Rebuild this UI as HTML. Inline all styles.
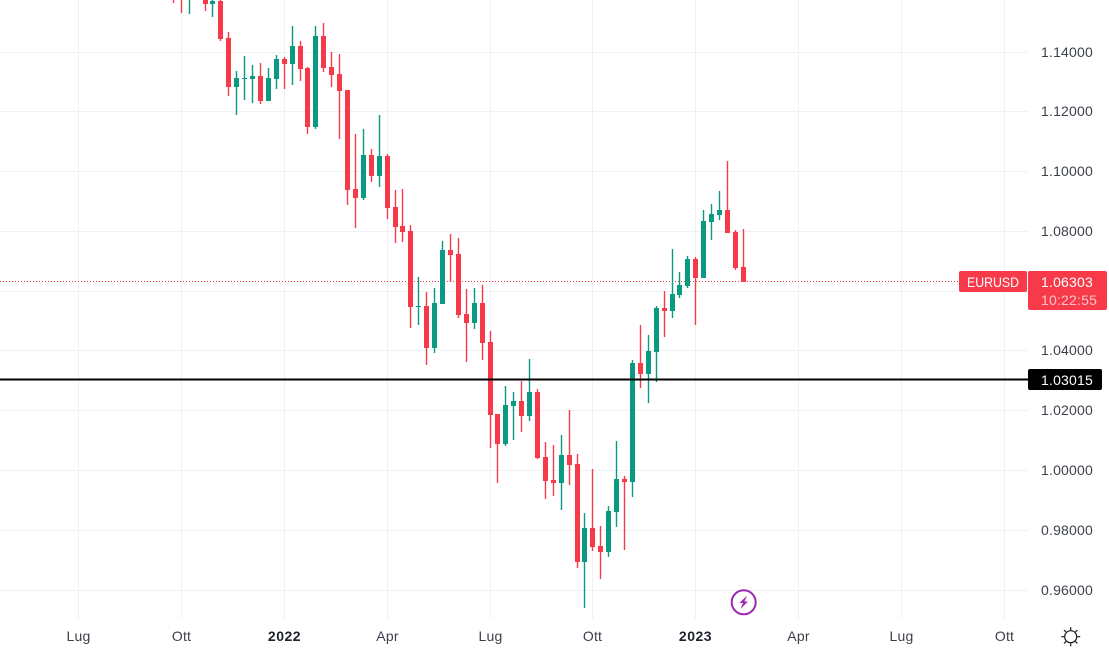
<!DOCTYPE html>
<html lang="it">
<head>
<meta charset="utf-8">
<title>EURUSD weekly chart</title>
<style>
html,body{margin:0;padding:0;background:#fff;width:1109px;height:651px;overflow:hidden}
svg{display:block}
text{font-family:"Liberation Sans",sans-serif;font-size:14px;fill:#3c404b;letter-spacing:.2px}
</style>
</head>
<body>
<svg id="chart" width="1109" height="651" viewBox="0 0 1109 651" xmlns="http://www.w3.org/2000/svg">
  <g id="grid"></g>
  <line x1="0" x2="959" y1="281.5" y2="281.5" stroke="#f63a4a" stroke-width="1" stroke-dasharray="1 2"></line>
  <g id="candles"></g>
  <rect x="0" y="378.5" width="1028" height="2" fill="#000"></rect>
  <g id="price-axis"></g>
  <g id="time-axis"></g>

  <g>
    <rect x="959" y="271" width="68" height="21" rx="2" fill="#f63a4a"></rect>
    <text x="967" y="287" textLength="52" lengthAdjust="spacingAndGlyphs" style="fill:#fff;letter-spacing:0">EURUSD</text>
  </g>
  <g>
    <rect x="1028" y="271" width="79" height="39" rx="2" fill="#f63a4a"></rect>
    <text x="1041" y="287" style="fill:#fff">1.06303</text>
    <text x="1041" y="305" style="fill:#fcc4ca">10:22:55</text>
  </g>
  <g>
    <rect x="1028" y="369" width="74" height="21" rx="2" fill="#000"></rect>
    <text x="1041" y="385" style="fill:#fff">1.03015</text>
  </g>

  <g>
    <circle cx="743.7" cy="602.3" r="12" fill="#fff" stroke="#9c27b0" stroke-width="2"></circle>
    <path d="M747 595.5 L739.5 603 L743 603 L740.5 609 L748 601.5 L744.5 601.5 Z" fill="#9c27b0"></path>
  </g>
  <g fill="none" stroke="#131722" stroke-width="1.2">
    <circle cx="1070.7" cy="636.7" r="6"></circle>
    <path d="M1070.7 627.2v3M1070.7 643.2v3M1061.2 636.7h3M1077.2 636.7h3M1064 630l2 2M1075.4 641.4l2 2M1077.4 630l-2 2M1066 641.4l-2 2"></path>
  </g>
</svg>
<script>
const opens = [1.16391,1.16123,1.15822,1.15900,1.15822,1.15588,1.15689,1.14451,1.12812,1.13080,1.13080,1.13180,1.12344,1.13080,1.13749,1.13581,1.14184,1.13448,1.11474,1.14518,1.13481,1.13247,1.12712,1.09401,1.09100,1.10538,1.09836,1.10505,1.08799,1.08163,1.07996,1.05455,1.05488,1.04083,1.05555,1.07361,1.07227,1.05220,1.04919,1.05588,1.04284,1.01876,1.00872,1.02144,1.02311,1.01809,1.02612,1.00437,0.99668,0.99568,1.00505,1.00204,0.96926,0.98063,0.97461,0.97260,0.98598,0.99702,0.99601,1.03581,1.03213,1.03949,1.05421,1.05321,1.05856,1.06157,1.07060,1.06424,1.08297,1.08531,1.08699,1.07963,1.06792];
const highs = [1.16558,1.16391,1.16224,1.16200,1.15990,1.15856,1.15755,1.14652,1.13348,1.13849,1.13548,1.13615,1.13448,1.13883,1.13816,1.14852,1.14351,1.13481,1.14852,1.14953,1.13983,1.13916,1.12712,1.11240,1.11408,1.10739,1.11876,1.10572,1.09367,1.09400,1.08197,1.06458,1.05956,1.06090,1.07662,1.07896,1.07762,1.06057,1.06090,1.06190,1.04652,1.01876,1.02812,1.02612,1.02979,1.03715,1.02712,1.00939,1.00839,1.01173,1.02010,1.00538,0.98565,1.00036,0.98130,0.98799,1.00973,0.99802,1.03682,1.04852,1.04518,1.05488,1.05989,1.07394,1.06625,1.07160,1.07127,1.08699,1.08899,1.09334,1.10337,1.08030,1.08063];
const lows = [1.15622,1.15287,1.15254,1.15760,1.15354,1.15153,1.14351,1.12511,1.11876,1.12378,1.12278,1.12244,1.12344,1.12745,1.12745,1.12879,1.13013,1.11240,1.11408,1.13314,1.12812,1.11073,1.08866,1.08097,1.09033,1.09635,1.09468,1.08398,1.07595,1.07628,1.04752,1.04852,1.03515,1.03916,1.05555,1.06291,1.05087,1.03615,1.04719,1.03682,1.00739,0.99568,1.00805,1.01006,1.01274,1.01642,1.00371,0.99033,0.99134,0.98665,0.99501,0.96725,0.95388,0.97294,0.96358,0.97093,0.98097,0.97327,0.99100,1.02746,1.02244,1.02946,1.04451,1.05087,1.05755,1.06090,1.04852,1.06424,1.07695,1.08364,1.07929,1.06692,1.06303];
const closes = [1.15889,1.15822,1.16123,1.16000,1.15588,1.15689,1.14418,1.12812,1.13113,1.13113,1.13180,1.12344,1.13113,1.13749,1.13581,1.14184,1.13414,1.11474,1.14518,1.13448,1.13214,1.12679,1.09367,1.09100,1.10538,1.09836,1.10505,1.08766,1.08130,1.07963,1.05455,1.05488,1.04083,1.05588,1.07361,1.07194,1.05187,1.04919,1.05588,1.04250,1.01843,1.00872,1.02177,1.02311,1.01809,1.02612,1.00404,0.99635,0.99568,1.00505,1.00170,0.96926,0.98063,0.97428,0.97260,0.98632,0.99702,0.99601,1.03581,1.03213,1.03983,1.05421,1.05321,1.05889,1.06190,1.07060,1.06424,1.08331,1.08565,1.08699,1.07929,1.06759,1.06303];
const priceTicks = [1.14,1.12,1.10,1.08,1.06,1.04,1.02,1.00,0.98,0.96];
const hiddenPriceLabels = [1.06];
const timeLabels = ["Lug","Ott","2022","Apr","Lug","Ott","2023","Apr","Lug","Ott"];
const timeBold = ["2022","2023"];
const timeBarIndex = [-12,1,14,27,40,53,66,79,92,105];

const NS = "http://www.w3.org/2000/svg";
const GREEN = "#0a9981", RED = "#f63a4a", GRID = "#eff1f4";

function xAxis(i){ return Math.floor(173.4 + 7.915 * i); }
function yAxis(p){ return Math.round(51.5 + (1.14 - p) * 2990); }
function mk(parent, tag, attrs){
  const el = document.createElementNS(NS, tag);
  for (const k in attrs) el.setAttribute(k, attrs[k]);
  parent.appendChild(el);
  return el;
}

const grid = document.getElementById("grid");
const candles = document.getElementById("candles");
const priceAxis = document.getElementById("price-axis");
const timeAxis = document.getElementById("time-axis");

priceTicks.forEach(function(t){
  const y = yAxis(t);
  const line = mk(grid, "rect", {x:0, y:y, width:1028, height:1, fill:GRID});
  
  
  if (hiddenPriceLabels.indexOf(t) < 0) {
    const label = mk(priceAxis, "text", {x:1041, y:y + 5});
    
    
    label.textContent = t.toFixed(5);
  }
});

timeLabels.forEach(function(name, k){
  const x = xAxis(timeBarIndex[k]);
  const line = mk(grid, "rect", {x:x, y:0, width:1, height:619, fill:GRID});
  
  
  const label = mk(timeAxis, "text", {x:x + 0.5, y:641, "text-anchor":"middle"});
  
  
  if (timeBold.indexOf(name) >= 0) label.setAttribute("style", "font-weight:700;fill:#1e222d;letter-spacing:.5px");
  label.textContent = name;
});

opens.forEach(function(o, i){
  const c = closes[i];
  const color = c >= o ? GREEN : RED;
  const x = xAxis(i);
  const g = mk(candles, "g", {fill:color});
  
  
  const hy = yAxis(highs[i]), ly = yAxis(lows[i]);
  const top = yAxis(Math.max(o, c));
  const bottom = yAxis(Math.min(o, c));
  const wick = mk(g, "rect", {x:x - 0.2, y:hy, width:1.4, height:Math.max(1, ly - hy)});
  
  
  const body = mk(g, "rect", {x:x - 2, y:top, width:5, height:Math.max(1, bottom - top)});
  
  
});
</script>
</body>
</html>
